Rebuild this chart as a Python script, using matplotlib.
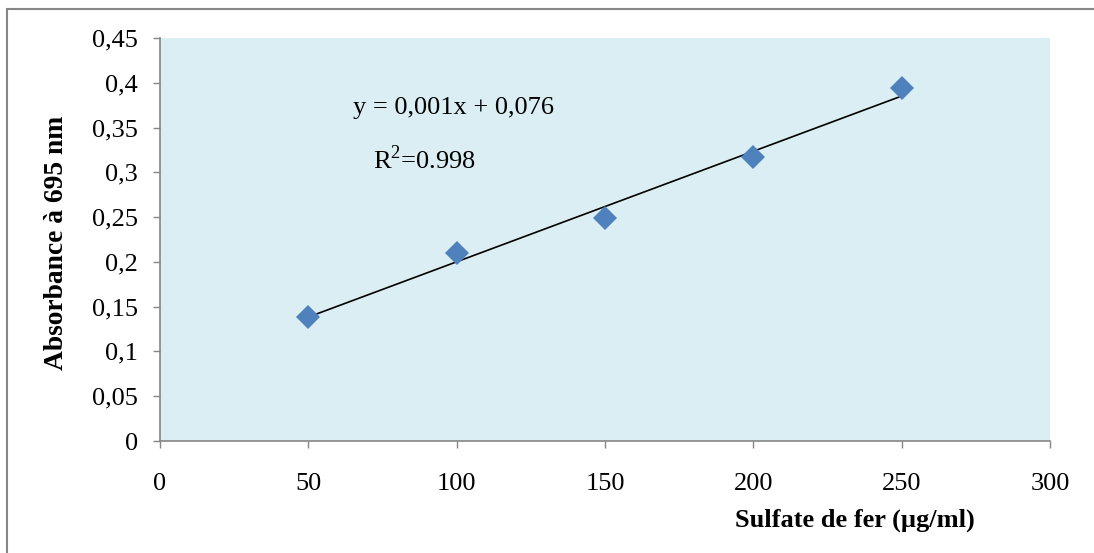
import numpy as np
import matplotlib.pyplot as plt
from matplotlib.patches import Rectangle

conc = [50, 100, 150, 200, 250]
absorb = [0.139, 0.21, 0.249, 0.317, 0.394]
x_ticks = [0, 50, 100, 150, 200, 250, 300]
y_ticks = [0, 0.05, 0.1, 0.15, 0.2, 0.25, 0.3, 0.35, 0.4, 0.45]
y_labels = ['0', '0,05', '0,1', '0,15', '0,2', '0,25', '0,3', '0,35', '0,4', '0,45']

plt.rcParams['font.family'] = ['Liberation Serif', 'DejaVu Serif']
grey = '#868686'

fig = plt.figure(figsize=(10.94, 5.53), dpi=100)
ax = fig.add_axes([160 / 1094, 112 / 553, 890 / 1094, 403 / 553])
ax.set_facecolor('#DBEEF3')

# trend line (least squares)
slope, icpt = np.polyfit(conc, absorb, 1)
xs = np.array([conc[0], conc[-1]])
ax.plot(xs, slope * xs + icpt, color='black', lw=1.2, zorder=2)
ax.plot(conc, absorb, 'D', color='#4F81BD', markersize=12.5, markeredgewidth=0, zorder=3)

ax.set_xlim(0, 300)
ax.set_ylim(0, 0.45)
ax.set_xticks(x_ticks)
ax.set_xticklabels([str(v) for v in x_ticks])
ax.set_yticks(y_ticks)
ax.set_yticklabels(y_labels)
ax.tick_params(direction='out', length=5, width=1, color=grey, labelsize=19, pad=11)
ax.tick_params(axis='x', pad=18)
for side in ['top', 'right']:
    ax.spines[side].set_visible(False)
for side in ['left', 'bottom']:
    ax.spines[side].set_color(grey)
    ax.spines[side].set_linewidth(1.2)

ax.text(353 / 1094, 1 - 108 / 553, 'y = 0,001x + 0,076', transform=fig.transFigure,
        fontsize=19, ha='left', va='center')
ax.text(373 / 1094, 1 - 160 / 553, r'R$^{\mathregular{2}}$=0.998', transform=fig.transFigure,
        fontsize=19, ha='left', va='center')

fig.text(57 / 1094, 1 - 243 / 553, 'Absorbance à 695 nm', rotation=90, fontsize=19.8,
         fontweight='bold', ha='center', va='center')
fig.text(855 / 1094, 1 - 520 / 553, 'Sulfate de fer (µg/ml)', fontsize=19,
         fontweight='bold', ha='center', va='center')

# outer chart border
fig.patches.append(Rectangle((7 / 1094, -0.1), 1.2, 1 - 9 / 553 + 0.1, transform=fig.transFigure,
                             fill=False, edgecolor=grey, lw=1.5, clip_on=False))

fig.savefig('out.png', dpi=100)
